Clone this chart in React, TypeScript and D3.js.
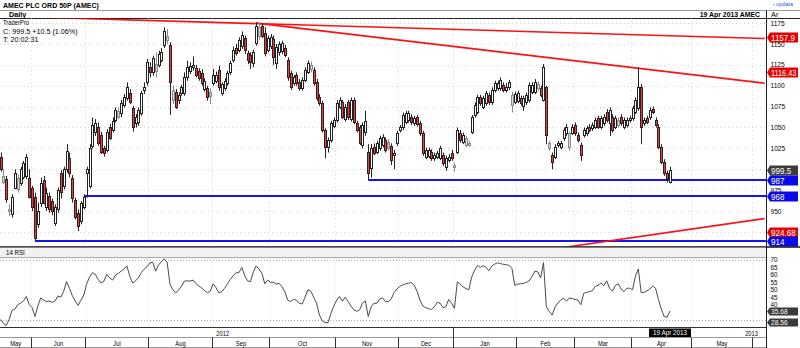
import React from "react";
import * as d3 from "d3";

// ---------- DATA ----------
const opens = [
  1015,985,988,950,946,978,976,984,991,992,
  989,977,967,935,960,987,955,968,962,936,
  952,996,980,1000,1014,990,963,948,938,955,
  995,980,1028,1045,1050,1041,1025,1023,1050,1047,
  1059,1063,1067,1077,1085,1091,1073,1055,1056,1067,
  1095,1104,1122,1116,1118,1125,1131,1149,1155,1149,
  1083,1092,1083,1091,1091,1110,1118,1122,1121,1118,
  1115,1096,1097,1092,1103,1106,1119,1091,1097,1103,
  1116,1131,1145,1143,1147,1157,1139,1137,1127,1151,
  1160,1172,1163,1143,1148,1156,1127,1140,1141,1145,
  1131,1115,1103,1113,1104,1097,1107,1117,1120,1119,
  1105,1086,1079,1047,1027,1035,1052,1059,1075,1080,
  1060,1080,1060,1083,1055,1050,1029,1045,1021,1002,
  1027,1021,1025,1029,1035,1033,1028,1017,1031,1047,
  1050,1057,1059,1062,1055,1062,1055,1043,1015,1016,
  1021,1013,1015,1014,1017,1003,1011,1020,1003,1021,
  1044,1033,1029,1029,1045,1065,1069,1086,1075,1079,
  1089,1080,1095,1097,1097,1101,1095,1098,1077,1081,
  1082,1085,1076,1080,1083,1093,1093,1097,1097,1083,
  1098,1025,1017,1015,1029,1027,1037,1043,1027,1044,
  1053,1041,1029,1041,1043,1051,1049,1051,1061,1051,
  1055,1069,1055,1063,1051,1053,1063,1051,1053,1059,
  1061,1069,1073,1098,1055,1061,1062,1072,1059,1051,
  1027,1009,995,985,
];
const highs = [
  1020,1000,992,958,970,1000,994,1003,1010,1018,
  1000,980,972,960,990,992,978,972,965,958,
  978,999,1003,1030,1020,993,966,952,962,970,
  1003,1030,1062,1060,1056,1045,1028,1048,1054,1062,
  1074,1074,1083,1090,1104,1096,1076,1066,1074,1094,
  1104,1132,1128,1136,1140,1142,1145,1170,1168,1152,
  1100,1096,1092,1101,1116,1130,1128,1135,1125,1121,
  1120,1109,1100,1097,1120,1117,1124,1104,1109,1118,
  1130,1147,1150,1158,1165,1160,1142,1140,1143,1176,
  1176,1175,1170,1160,1162,1160,1150,1153,1154,1149,
  1134,1118,1113,1116,1108,1110,1122,1130,1129,1122,
  1108,1090,1082,1049,1038,1058,1062,1083,1086,1083,
  1078,1083,1086,1086,1058,1053,1056,1070,1030,1030,
  1031,1034,1040,1042,1038,1036,1031,1023,1046,1053,
  1068,1070,1070,1066,1064,1065,1058,1046,1026,1026,
  1024,1020,1022,1028,1020,1016,1018,1023,1008,1050,
  1047,1044,1040,1034,1065,1080,1089,1089,1088,1094,
  1092,1098,1106,1106,1110,1104,1103,1107,1093,1093,
  1094,1088,1088,1092,1104,1104,1108,1105,1100,1126,
  1100,1034,1020,1030,1034,1034,1050,1054,1045,1054,
  1056,1044,1032,1050,1052,1054,1056,1062,1064,1064,
  1066,1072,1074,1066,1064,1062,1066,1062,1062,1064,
  1076,1086,1122,1102,1062,1064,1074,1075,1062,1054,
  1030,1012,998,1003,
];
const lows = [
  997,982,960,944,942,976,972,980,988,988,
  965,950,914,930,955,958,950,948,945,932,
  948,965,976,996,990,960,940,926,934,952,
  966,977,1025,1040,1028,1018,1015,1020,1035,1044,
  1056,1060,1062,1074,1082,1078,1045,1050,1052,1064,
  1090,1100,1110,1112,1110,1122,1128,1145,1150,1065,
  1078,1072,1078,1088,1088,1106,1114,1118,1110,1106,
  1100,1093,1082,1078,1100,1103,1094,1088,1094,1100,
  1113,1128,1136,1140,1144,1138,1126,1120,1122,1148,
  1155,1157,1135,1140,1144,1125,1120,1136,1138,1134,
  1106,1095,1100,1100,1094,1094,1104,1114,1116,1100,
  1082,1076,1044,1013,1020,1032,1049,1056,1072,1060,
  1057,1059,1057,1054,1044,1029,1025,1040,987,990,
  1017,1018,1022,1026,1020,1022,1005,1000,1028,1044,
  1047,1054,1056,1053,1052,1051,1040,1016,1012,1013,
  1010,1010,1012,1011,1004,998,1008,1010,997,1018,
  1032,1030,1026,1027,1042,1062,1066,1076,1072,1076,
  1077,1077,1092,1094,1094,1092,1092,1095,1068,1078,
  1079,1076,1070,1077,1080,1090,1090,1094,1086,1081,
  1030,1022,1000,1012,1026,1024,1034,1040,1022,1041,
  1040,1032,1010,1038,1040,1044,1046,1048,1048,1048,
  1052,1056,1040,1044,1048,1050,1052,1048,1050,1056,
  1058,1066,1070,1030,1052,1054,1059,1066,1050,1024,
  1006,992,984,983,
];
const closes = [
  1000,992,964,953,967,996,990,1000,1007,1015,
  967,955,918,950,983,960,972,952,950,955,
  975,973,1000,1022,995,965,943,932,960,967,
  1000,1025,1053,1055,1031,1021,1019,1045,1038,1058,
  1071,1070,1079,1086,1098,1081,1051,1062,1071,1091,
  1098,1128,1116,1133,1126,1138,1140,1166,1160,1104,
  1095,1075,1089,1098,1110,1122,1124,1125,1113,1109,
  1103,1106,1086,1088,1113,1113,1098,1102,1106,1115,
  1127,1143,1139,1155,1161,1143,1131,1128,1140,1172,
  1170,1160,1139,1157,1158,1134,1146,1150,1151,1137,
  1110,1098,1110,1103,1097,1107,1119,1127,1125,1103,
  1085,1079,1047,1027,1035,1055,1059,1079,1083,1063,
  1075,1062,1083,1057,1047,1032,1053,1058,996,1025,
  1020,1031,1037,1039,1023,1025,1011,1020,1043,1050,
  1065,1067,1067,1056,1061,1054,1043,1019,1023,1023,
  1013,1017,1019,1025,1007,1013,1015,1013,1005,1047,
  1035,1041,1037,1031,1062,1077,1086,1079,1085,1091,
  1080,1095,1103,1103,1107,1095,1098,1104,1089,1090,
  1091,1079,1085,1089,1101,1101,1105,1102,1089,1122,
  1041,1031,1009,1027,1031,1031,1047,1051,1043,1051,
  1043,1035,1017,1047,1049,1047,1053,1059,1051,1061,
  1063,1059,1071,1047,1061,1059,1055,1059,1059,1061,
  1073,1083,1098,1051,1059,1057,1071,1069,1053,1027,
  1009,995,989,999.5,
];
const rsi14 = [
  30,27.5,26,30,36,37,40,41,42.5,45.5,
  40,38,32,39,44.5,43,42,42.5,41.5,42.5,
  45.8,45,49,55.5,51,46,42.5,39.5,43,46.5,
  54,58.5,61.5,60.4,57,54.5,55.8,60.4,58,56.5,
  59.9,61,62.5,64,66,59,54.5,56,58,61.5,
  63.8,65.5,68,68.5,62.5,66.5,69,70.8,68.5,53.5,
  50,47.8,49.8,52.3,55.8,56,55.8,56.5,54.2,52.5,
  51.2,49.5,48,49,54,51.5,48,48.7,51,54,
  57,59.5,61.4,61.5,65,59.5,56,55.4,62,66,
  63.8,61,54,56.5,55,55,53.8,54.3,52,48.5,
  43,42,43.5,43,40.9,40.4,45,50,49,45,
  41,33,29,27.9,27.9,34,39,43,45.5,42.3,
  45,42,39,36.5,35.5,36.5,41,42.5,32,38.5,
  40.9,40.9,43.8,44.5,42,42,43.8,48.2,50.5,52.3,
  53.3,54,54.4,54.8,53,49,43,39.1,38,37.3,
  36.8,38.5,41.5,41,38,38.5,43.5,41,37.5,55.2,
  53.7,52,50.8,50,58.5,63,66.3,65.1,66.2,65,
  62.8,66,67.2,68.1,67.6,67.1,66.8,66.4,64.4,53,
  53.7,54,54.2,55,55.9,58.8,62.5,62,58,68.2,
  38.5,35.5,33,38.3,41.2,43,44.3,42.3,44.5,44,
  43.5,43,40,47.6,48.2,48.8,49.3,52.3,53,54.5,
  52.8,56,51,49,53,54,50.5,48.7,51,51,
  50,59.2,64,48,48.3,49.2,50.5,52.5,51,43.5,
  37,32,31.5,35.68,
];

const firstTradingDay = "2012-05-17";
const ukHolidays = [
  "2012-06-04","2012-06-05","2012-08-27","2012-12-25","2012-12-26",
  "2013-01-01","2013-03-29","2013-04-01","2013-05-06","2013-05-27",
];
const totalSlots = 266;

const priceTicks = [925, 950, 975, 1000, 1025, 1050, 1075, 1100, 1125, 1150, 1175];
const rsiTicks = [40, 45, 50, 55, 60, 65, 70];

// trend lines: [index, price] pairs
const trendUpper = [[89, 1174.4], [233, 1159.9]];
const trendMid = [[89, 1175], [233, 1116.4]];
const trendLow = [[199, 907.8], [233, 924.68]];
// horizontal supports: [start index, level]
const supports = [[12, 914], [29, 968], [128, 987]];

const priceTags = [
  { v: 1157.9, label: "1157.9", c: "#e80000" },
  { v: 1116.43, label: "1116.43", c: "#e80000" },
  { v: 999.5, label: "999.5", c: "#3c3c3c" },
  { v: 987, label: "987", c: "#0a0ae8" },
  { v: 968, label: "968", c: "#0a0ae8" },
  { v: 924.68, label: "924.68", c: "#e80000" },
  { v: 914, label: "914", c: "#0a0ae8" },
];
const rsiTags = [
  { v: 35.68, label: "35.68" },
  { v: 28.56, label: "28.56" },
];

// ---------- LAYOUT ----------
const W = 800, H = 348;
const AX = 766;
const P_TOP = 18.5, P_BOT = 246.5;
const R_TOP = 257, R_BOT = 327;
const FONT = "'Liberation Sans', Arial, sans-serif";

function buildDays(start: string, n: number): Date[] {
  const hol = new Set(ukHolidays);
  const out: Date[] = [];
  const fmt = d3.timeFormat("%Y-%m-%d");
  let d = d3.timeParse("%Y-%m-%d")(start) as Date;
  while (out.length < n) {
    const wd = d.getDay();
    if (wd !== 0 && wd !== 6 && !hol.has(fmt(d))) out.push(d);
    d = d3.timeDay.offset(d, 1);
  }
  return out;
}

function T(props: any) {
  const { x, y, s = 7, sx = 1, w = "normal", a = "start", fill = "#000", children } = props;
  return (
    <text
      transform={`translate(${x},${y}) scale(${sx},1)`}
      fontSize={s}
      fontWeight={w}
      textAnchor={a}
      fill={fill}
      fontFamily={FONT}
    >
      {children}
    </text>
  );
}

export default function App() {
  const days = buildDays(firstTradingDay, totalSlots + 1);
  const x = d3.scaleLinear().domain([0, totalSlots]).range([0.5, 0.5 + totalSlots * 2.873]);
  const y = d3.scaleLinear().domain([907.5, 1180.5]).range([P_BOT, P_TOP]);
  const yr = d3.scaleLinear().domain([30, 70]).range([319.5, 260]);

  // months
  const monthStarts: { i: number; d: Date }[] = [];
  days.forEach((d, i) => {
    if (i === 0 || d.getMonth() !== days[i - 1].getMonth()) monthStarts.push({ i, d });
  });
  const sepX = (i: number) => Math.round(x(i - 0.5)) + 0.5;
  const monthFmt = d3.timeFormat("%b");

  const lineAt = (p: number[][], idx: number) => {
    const [a, b] = p;
    return a[1] + ((b[1] - a[1]) * (idx - a[0])) / (b[0] - a[0]);
  };
  const trendSegs = [
    { p: trendUpper, from: -40 },
    { p: trendMid, from: 89 },
    { p: trendLow, from: 190 },
  ];

  const rsiLine = d3
    .line<number>()
    .x((_, i) => x(i))
    .y((d) => yr(d));

  const lastIdx = closes.length - 1;

  // tick labels fully hidden by a tag are not drawn (as in the reference)
  const visibleTicks = priceTicks.filter(
    (t) => !priceTags.some((p) => Math.abs(y(p.v) - y(t)) < 3)
  );

  const tag = (yy: number, label: string, fill: string, h = 10, fs = 8.5, key?: any) => (
    <g key={key}>
      <polygon
        points={`${AX + 1},${yy} ${AX + 4},${yy - h / 2} ${W - 2},${yy - h / 2} ${W - 2},${yy + h / 2} ${AX + 4},${yy + h / 2}`}
        fill={fill}
      />
      <T x={AX + 5} y={yy + fs * 0.36} s={fs} sx={label.length > 6 ? 0.86 : 0.95} fill="#fff">{label}</T>
    </g>
  );

  const yearStarts = monthStarts.filter((m, k) => k > 0 && m.d.getMonth() === 0);

  return (
    <svg width={W} height={H} style={{ position: "absolute", left: 0, top: 0, background: "#fff" }}>
      <defs>
        <clipPath id="pclip">
          <rect x={0} y={P_TOP} width={AX} height={P_BOT - P_TOP} />
        </clipPath>
        <clipPath id="rclip">
          <rect x={0} y={R_TOP} width={AX} height={R_BOT - R_TOP} />
        </clipPath>
      </defs>
      <rect x={0} y={0} width={W} height={H} fill="#fff" />

      {/* header */}
      <T x={3} y={7.5} s={8} sx={0.88} w="bold">AMEC PLC ORD 50P (AMEC)</T>
      <T x={773} y={6} s={5.5} fill="#2a5cc8">‹ updata</T>
      <line x1={0} x2={W} y1={10.5} y2={10.5} stroke="#999" />
      <T x={9} y={17} s={8} sx={0.9} w="bold">Daily</T>
      <T x={760} y={17} s={8} sx={0.86} w="bold" a="end">19 Apr 2013  AMEC</T>
      <T x={771} y={17} s={7.5}>Ar</T>
      <line x1={0} x2={W} y1={18.5} y2={18.5} stroke="#222" />

      {/* grid */}
      <g stroke="#d4d4d4" strokeDasharray="1 3">
        {priceTicks.map((t) => (
          <line key={t} x1={0} x2={AX} y1={Math.round(y(t)) + 0.5} y2={Math.round(y(t)) + 0.5} />
        ))}
        {monthStarts.slice(1).map((m) => (
          <line key={m.i} x1={sepX(m.i)} x2={sepX(m.i)} y1={P_TOP} y2={P_BOT} />
        ))}
      </g>

      {/* price info */}
      <T x={3} y={25} s={6.5} sx={0.9}>TraderPro</T>
      <T x={3} y={34} s={8} sx={0.9}>C: 999.5  +10.5 (1.06%)</T>
      <T x={3} y={42} s={8} sx={0.9}>T: 20:02:31</T>

      {/* trend & support lines */}
      <g clipPath="url(#pclip)">
        {supports.map(([i0, lv]) => (
          <line key={lv} x1={x(i0)} x2={AX} y1={y(lv)} y2={y(lv)} stroke="#1414f0" strokeWidth={2} />
        ))}
        {trendSegs.map((t, k) => (
          <line
            key={k}
            x1={x(t.from)}
            x2={x(totalSlots)}
            y1={y(lineAt(t.p, t.from))}
            y2={y(lineAt(t.p, totalSlots))}
            stroke="#ff1010"
            strokeWidth={1.6}
          />
        ))}

        {/* candles */}
        {closes.map((c, i) => {
          const o = opens[i];
          const cx = Math.round(x(i));
          const prev = i > 0 ? closes[i - 1] : o;
          let fill = "#fff", stroke = "#222";
          if (c < o) {
            if (c < prev) { fill = "#e84040"; stroke = "#302020"; }
            else { fill = "#bdbdbd"; stroke = "#8a8a8a"; }
          } else if (c < prev) {
            fill = "#d8d8d8"; stroke = "#8a8a8a";
          }
          const top = Math.round(y(Math.max(o, c)));
          const bot = Math.round(y(Math.min(o, c)));
          return (
            <g key={i}>
              <line x1={cx + 0.5} x2={cx + 0.5} y1={y(highs[i])} y2={y(lows[i])} stroke={stroke} strokeWidth={1} />
              <rect x={cx - 0.5} y={top + 0.5} width={2} height={Math.max(1, bot - top)} fill={fill} stroke={stroke} strokeWidth={1} />
            </g>
          );
        })}
      </g>

      {/* price axis */}
      <line x1={AX + 0.5} x2={AX + 0.5} y1={10.5} y2={H} stroke="#222" />
      {visibleTicks.map((t) => (
        <T key={t} x={770.5} y={y(t) + 2.6} s={7.2} sx={0.92}>{t}</T>
      ))}
      {priceTags.map((p, k) => tag(Math.round(y(p.v)) + 0.5, p.label, p.c, 10, 8.5, k))}

      {/* panel separator + RSI strip */}
      <line x1={0} x2={W} y1={247} y2={247} stroke="#111" strokeWidth={1.3} />
      <rect x={0} y={247.7} width={AX} height={R_TOP - 247.7} fill="#f1f1f1" />
      <line x1={0} x2={AX} y1={R_TOP + 0.5} y2={R_TOP + 0.5} stroke="#aaa" />
      <T x={6} y={254.6} s={6.8} sx={0.9}>14 RSI</T>

      {/* RSI */}
      <g stroke="#b0b0b0" strokeDasharray="1 2">
        <line x1={0} x2={AX} y1={Math.round(yr(70)) + 0.5} y2={Math.round(yr(70)) + 0.5} />
        <line x1={0} x2={AX} y1={Math.round(yr(30)) + 0.5} y2={Math.round(yr(30)) + 0.5} />
      </g>
      <g stroke="#e2e2e2" strokeDasharray="1 3">
        {monthStarts.slice(1).map((m) => (
          <line key={m.i} x1={sepX(m.i)} x2={sepX(m.i)} y1={R_TOP + 1} y2={R_BOT} />
        ))}
      </g>
      <g clipPath="url(#rclip)">
        <path d={rsiLine(rsi14) || ""} fill="none" stroke="#4a4a4a" strokeWidth={1} />
      </g>
      {rsiTicks.map((t) => (
        <T key={t} x={770.5} y={yr(t) + 2.4} s={6.8} sx={0.92}>{t}</T>
      ))}
      {rsiTags.map((r, k) => tag(Math.round(yr(r.v)) + 0.5, r.label, "#3a3a3a", 8, 7, "r" + k))}

      {/* date axis */}
      <line x1={0} x2={AX} y1={327.5} y2={327.5} stroke="#333" />
      <line x1={0} x2={AX} y1={337.5} y2={337.5} stroke="#999" />
      <line x1={0} x2={AX} y1={347.5} y2={347.5} stroke="#999" />
      {monthStarts.map((m, k) => {
        const x0 = k === 0 ? 0 : sepX(m.i);
        const next = monthStarts[k + 1];
        const x1 = next ? Math.min(sepX(next.i), AX) : AX;
        if (x0 >= AX) return null;
        return (
          <g key={m.i}>
            {k > 0 && <line x1={x0} x2={x0} y1={337.5} y2={348} stroke="#333" />}
            {x1 - x0 > 20 && (
              <T x={(x0 + x1) / 2} y={345.6} s={6.8} sx={0.85} a="middle">{monthFmt(m.d)}</T>
            )}
          </g>
        );
      })}
      {yearStarts.map((m) => (
        <line key={m.i} x1={sepX(m.i)} x2={sepX(m.i)} y1={327.5} y2={338} stroke="#333" />
      ))}
      <T x={sepX(yearStarts[0].i) / 2 - 4} y={335.6} s={6.8} sx={0.85} a="middle">2012</T>
      <T x={758} y={335.6} s={6.8} sx={0.85} a="end">2013</T>
      <rect x={Math.round(x(lastIdx)) - 21} y={328.5} width={42} height={8.5} fill="#000" />
      <T x={Math.round(x(lastIdx))} y={335.4} s={7} sx={0.9} a="middle" fill="#fff">
        {d3.timeFormat("%-d %b %Y")(days[lastIdx])}
      </T>
    </svg>
  );
}
